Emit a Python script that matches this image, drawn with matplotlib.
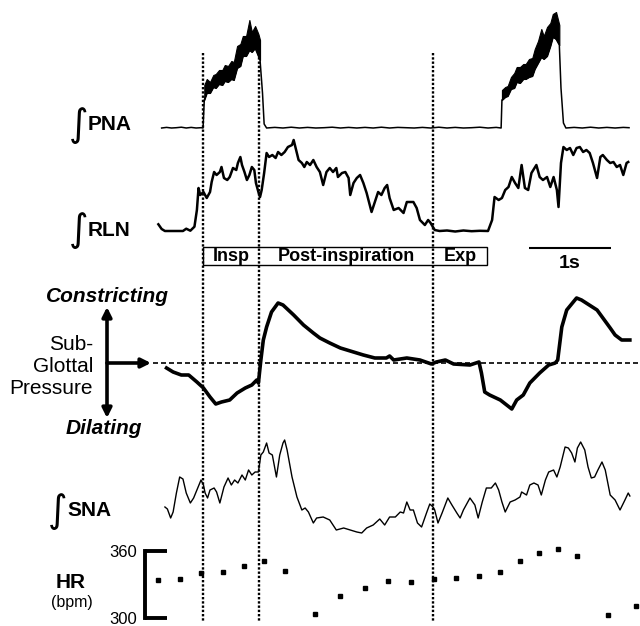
import numpy as np
import matplotlib
matplotlib.use("Agg")
import matplotlib.pyplot as plt
from matplotlib.patches import Rectangle

plt.rcParams['font.family'] = ['Liberation Sans', 'DejaVu Sans']

# time in seconds from start of the record
phase_times = [0.524, 1.207, 3.329]     # insp onset, post-insp onset, exp onset
phase_end = 3.988
phase_names = ["Insp", "Post-inspiration", "Exp"]

# integrated phrenic nerve activity (a.u.), baseline + two bursts
pna_base_t = [0.02, 0.08, 0.14, 0.20, 0.26, 0.32, 0.38, 0.44, 0.50, 0.525,
              1.25, 1.27, 1.30, 1.40, 1.50, 1.60, 1.70, 1.80, 1.90, 2.00, 2.10, 2.20,
              2.30, 2.40, 2.50, 2.60, 2.70, 2.80, 2.90, 3.00, 3.10, 3.20, 3.30, 3.40,
              3.50, 3.60, 3.70, 3.80, 3.90, 4.00, 4.10, 4.16,
              4.89, 4.92, 4.95, 5.05, 5.15, 5.25, 5.35, 5.45, 5.55, 5.65, 5.72]
pna_base_a = [0, 0.6, 0, 0.3, 0.8, 0, 0.6, 0, 0.3, 0,
              35, 4, 0, 0.6, 0, 0.8, 0, 0.6, 0, 0.3, 0.8, 0,
              0.6, 0, 0.6, 0, 0.8, 0, 0.6, 0.3, 0, 0.6, 0, 0.8,
              0, 0.6, 0, 0.3, 0.8, 0, 0.6, 0,
              40, 5, 0, 0.6, 0, 0.8, 0, 0.6, 0, 0.6, 0.3]
burst1_t = [0.54, 0.57, 0.61, 0.65, 0.68, 0.72, 0.76, 0.79, 0.83, 0.87,
            0.90, 0.94, 0.98, 1.01, 1.05, 1.09, 1.12, 1.16, 1.20, 1.22]
burst1_top = [43, 49, 46, 53, 54, 58, 58, 63, 62, 67, 66, 82, 84, 92, 92, 108, 96, 102, 94, 88]
burst1_bot = [28, 35, 35, 41, 40, 44, 43, 47, 46, 49, 48, 60, 62, 72, 72, 78, 76, 80, 72, 68]
burst2_t = [4.17, 4.21, 4.24, 4.28, 4.32, 4.35, 4.39, 4.43, 4.46, 4.50,
            4.54, 4.57, 4.61, 4.65, 4.68, 4.72, 4.76, 4.79, 4.83, 4.87]
burst2_top = [38, 41, 42, 51, 55, 61, 61, 64, 64, 69, 70, 79, 87, 99, 92, 101, 105, 114, 116, 103]
burst2_bot = [28, 31, 32, 39, 40, 46, 45, 49, 49, 51, 52, 59, 65, 71, 69, 72, 82, 91, 89, 83]

# integrated recurrent laryngeal nerve activity (a.u.)
rln_t = [-0.02, 0.02, 0.06, 0.28, 0.32, 0.37, 0.42, 0.45, 0.47, 0.49,
         0.53, 0.57, 0.61, 0.63, 0.66, 0.69, 0.73, 0.75, 0.78, 0.82,
         0.85, 0.89, 0.93, 0.95, 0.98, 1.00, 1.03, 1.06, 1.09, 1.12,
         1.15, 1.17, 1.20, 1.22, 1.24, 1.27, 1.30, 1.33, 1.37, 1.41,
         1.44, 1.48, 1.52, 1.56, 1.61, 1.63, 1.66, 1.69, 1.73, 1.76,
         1.79, 1.83, 1.87, 1.91, 1.95, 1.99, 2.03, 2.07, 2.11, 2.15,
         2.17, 2.22, 2.26, 2.30, 2.32, 2.36, 2.40, 2.44, 2.48, 2.52,
         2.58, 2.62, 2.66, 2.70, 2.74, 2.77, 2.80, 2.85, 2.91, 2.97,
         3.01, 3.05, 3.09, 3.13, 3.17, 3.23, 3.27, 3.30, 3.35, 3.41,
         3.50, 3.60, 3.70, 3.80, 3.90, 4.00, 4.05, 4.08, 4.13, 4.17,
         4.21, 4.25, 4.29, 4.33, 4.37, 4.41, 4.45, 4.49, 4.53, 4.59,
         4.63, 4.67, 4.72, 4.76, 4.80, 4.84, 4.86, 4.89, 4.92, 4.96,
         5.00, 5.04, 5.08, 5.12, 5.16, 5.20, 5.24, 5.28, 5.33, 5.37,
         5.40, 5.45, 5.49, 5.53, 5.57, 5.61, 5.65, 5.69, 5.71]
rln_a = [7.7, 3, 1, 1, 3.3, 1.3, 5.3, 22, 44, 37,
         40, 34, 40, 50, 60, 57, 60, 65, 54, 52,
         55, 64, 62, 69, 75, 67, 60, 52, 57, 65,
         62, 49, 40, 35, 42, 59, 79, 75, 77, 74,
         80, 77, 80, 85, 87, 92, 82, 72, 69, 65,
         70, 67, 72, 65, 60, 47, 60, 64, 60, 64,
         55, 59, 60, 54, 37, 49, 54, 57, 49, 39,
         20, 30, 40, 37, 44, 47, 34, 22, 24, 19,
         30, 30, 30, 24, 12, 7, 12, 9, 2, 1,
         1.5, 0.5, 1.5, 0.8, 1.2, 1, 12, 35, 32, 34,
         42, 45, 55, 49, 44, 67, 44, 42, 59, 67,
         55, 52, 55, 45, 55, 42, 25, 69, 85, 82,
         84, 77, 84, 85, 80, 82, 79, 69, 54, 75,
         77, 72, 69, 70, 65, 67, 57, 69, 70]

# sub-glottal pressure (a.u., + = constricting)
press_t = [0.08, 0.16, 0.26, 0.35, 0.45, 0.53, 0.61, 0.68, 0.75, 0.85,
           0.94, 1.04, 1.12, 1.18, 1.20, 1.23, 1.26, 1.30, 1.36, 1.44,
           1.50, 1.63, 1.75, 1.87, 1.95, 2.07, 2.20, 2.36, 2.48, 2.62,
           2.76, 2.80, 2.85, 3.01, 3.17, 3.31, 3.37, 3.48, 3.58, 3.78,
           3.89, 3.92, 3.96, 4.02, 4.15, 4.29, 4.35, 4.43, 4.51, 4.63,
           4.74, 4.82, 4.85, 4.90, 4.96, 5.08, 5.14, 5.33, 5.49, 5.55,
           5.63, 5.73]
press_p = [-5, -9, -12, -12, -19, -25, -34, -41, -39, -37,
           -30, -25, -22, -17, -20, 3, 23, 36, 51, 60,
           58, 48, 38, 30, 25, 20, 15, 11, 8, 5,
           5, 7, 3, 5, 3, -1, 1, 3, -1, -2,
           1, -10, -29, -32, -37, -46, -37, -32, -20, -10,
           -2, 0, 3, 36, 53, 65, 63, 53, 35, 28,
           23, 23]

# integrated sympathetic nerve activity (a.u.)
sna_t = [0.06, 0.09, 0.13, 0.16, 0.20, 0.24, 0.28, 0.32, 0.37, 0.41,
         0.45, 0.50, 0.53, 0.55, 0.58, 0.61, 0.66, 0.69, 0.73, 0.78,
         0.83, 0.87, 0.91, 0.95, 1.00, 1.04, 1.08, 1.12, 1.16, 1.20,
         1.23, 1.26, 1.30, 1.33, 1.37, 1.42, 1.46, 1.50, 1.52, 1.55,
         1.61, 1.67, 1.73, 1.77, 1.81, 1.87, 1.91, 1.99, 2.07, 2.15,
         2.24, 2.32, 2.40, 2.46, 2.52, 2.60, 2.68, 2.74, 2.80, 2.87,
         2.93, 2.97, 3.01, 3.05, 3.09, 3.14, 3.19, 3.25, 3.29, 3.33,
         3.35, 3.39, 3.44, 3.51, 3.56, 3.62, 3.66, 3.70, 3.78, 3.84,
         3.88, 3.93, 3.98, 4.04, 4.09, 4.13, 4.17, 4.21, 4.27, 4.33,
         4.39, 4.41, 4.47, 4.51, 4.56, 4.61, 4.65, 4.70, 4.74, 4.80,
         4.84, 4.88, 4.94, 4.98, 5.02, 5.06, 5.09, 5.13, 5.18, 5.22,
         5.26, 5.30, 5.34, 5.39, 5.43, 5.49, 5.55, 5.61, 5.67, 5.71,
         5.73]
sna_a = [33, 31, 22, 28, 47, 63, 61, 47, 37, 42,
         50, 60, 55, 47, 42, 50, 52, 48, 37, 53,
         62, 55, 60, 57, 65, 60, 70, 65, 68, 68,
         85, 88, 97, 87, 85, 63, 85, 97, 100, 90,
         63, 43, 30, 32, 28, 17, 22, 23, 20, 10,
         12, 10, 8, 7, 12, 15, 21, 15, 23, 23,
         28, 27, 38, 30, 30, 17, 13, 27, 36, 33,
         30, 17, 27, 42, 35, 27, 22, 30, 42, 35,
         22, 38, 52, 52, 57, 50, 38, 28, 38, 40,
         43, 48, 45, 55, 57, 55, 45, 60, 68, 70,
         63, 73, 93, 92, 87, 78, 92, 98, 90, 73,
         62, 63, 70, 78, 70, 45, 40, 30, 40, 47,
         44]

# beat-to-beat heart rate
hr_t = [-0.02, 0.24, 0.50, 0.77, 1.02, 1.27, 1.53, 1.89, 2.20, 2.50, 2.78,
        3.06, 3.34, 3.61, 3.89, 4.15, 4.39, 4.62, 4.85, 5.09, 5.46, 5.80]
hr_bpm = [334, 335, 340, 341, 347, 351, 342, 304, 320, 327, 333,
          332, 335, 336, 338, 341, 351, 358, 362, 356, 303, 311]

W, H = 640, 626
T0, T1 = -160 / 82, 480 / 82   # visible time range (s)

fig = plt.figure(figsize=(W / 100, H / 100), dpi=100)


def panel(y_top, y_bot, ylim):
    ax = fig.add_axes([0, 1 - y_bot / H, 1, (y_bot - y_top) / H])
    ax.set_xlim(T0, T1)
    ax.set_ylim(*ylim)
    ax.axis("off")
    ax.patch.set_visible(False)
    return ax


# PNA
ax = panel(3, 135, (-7, 125))
line_t = np.concatenate([pna_base_t, burst1_t, burst2_t])
line_a = np.concatenate([pna_base_a, burst1_bot, burst2_bot])
order = np.argsort(line_t)
ax.plot(line_t[order], line_a[order], color="k", lw=1.1)
ax.fill_between(burst1_t, burst1_bot, burst1_top, color="k", lw=0.8)
ax.fill_between(burst2_t, burst2_bot, burst2_top, color="k", lw=0.8)

# RLN
ax = panel(130, 240, (-8, 102))
ax.plot(rln_t, rln_a, color="k", lw=1.8)

# sub-glottal pressure
ax = panel(290, 420, (-57, 73))
ax.hlines(0, -0.085, T1, color="k", lw=1.2, linestyles=(0, (3, 1.8)))
ax.plot(press_t, press_p, color="k", lw=2.6, solid_joinstyle="round")

# SNA
ax = panel(430, 545, (-5, 110))
ax.plot(sna_t, sna_a, color="k", lw=1.0)

# HR with bracket scale
ax = fig.add_axes([0, 0, 1, 86 / H])
ax.patch.set_visible(False)
ax.set_xlim(T0, T1)
ax.set_ylim(292.8, 369.9)
ax.plot(hr_t, hr_bpm, "s", color="k", ms=3.2)
for s in ["top", "right", "bottom"]:
    ax.spines[s].set_visible(False)
ax.spines["left"].set_position(("data", -15 / 82))
ax.spines["left"].set_bounds(300, 360)
ax.spines["left"].set_linewidth(2.8)
ax.set_xticks([])
ax.set_yticks([300, 360])
ax.tick_params(axis="y", direction="in", length=16, width=2.8, pad=6, labelsize=12)

# overlay in time / pixel-row units: phase markers, phase box, scale bar
ov = fig.add_axes([0, 0, 1, 1])
ov.set_xlim(T0, T1)
ov.set_ylim(H, 0)
ov.axis("off")
ov.patch.set_visible(False)
ov.vlines(phase_times, 53, 622, color="k", lw=1.7, linestyles=(0, (1, 0.8)))
ov.add_patch(Rectangle((phase_times[0], 247), phase_end - phase_times[0], 18,
                       fill=False, lw=1.0, ec="k"))
bounds = phase_times + [phase_end]
for i, name in enumerate(phase_names):
    ov.text((bounds[i] + bounds[i + 1]) / 2, 256.5, name, ha="center", va="center",
            fontsize=13, fontweight="bold")
ov.hlines(248, 4.5, 5.5, color="k", lw=1.5)
ov.text(5.0, 264, "1s", ha="center", va="center", fontsize=14, fontweight="bold")

# labels in pixel units
lab = fig.add_axes([0, 0, 1, 1])
lab.set_xlim(0, W)
lab.set_ylim(H, 0)
lab.axis("off")
lab.patch.set_visible(False)

for xi, yi, name in [(80, 125, "PNA"), (80, 230, "RLN"), (59, 511, "SNA")]:
    lab.text(xi - 1, yi + 1, "\u222b", ha="center", va="center", fontsize=27,
             family=["DejaVu Sans"])
    lab.text(xi + 8, yi, name, ha="left", va="center", fontsize=15, fontweight="bold")

lab.text(71, 583, "HR", ha="center", va="center", fontsize=15, fontweight="bold")
lab.text(72, 603, "(bpm)", ha="center", va="center", fontsize=11.5)

lab.text(107, 296, "Constricting", ha="center", va="center", fontsize=15,
         fontweight="bold", style="italic")
lab.text(104, 428, "Dilating", ha="center", va="center", fontsize=15,
         fontweight="bold", style="italic")
for yi, word in [(345, "Sub-"), (367, "Glottal"), (388, "Pressure")]:
    lab.text(93, yi, word, ha="right", va="center", fontsize=15)

lab.annotate("", xy=(107, 307), xytext=(107, 418),
             arrowprops=dict(arrowstyle="<|-|>", lw=2.6, color="k",
                             mutation_scale=14, shrinkA=0, shrinkB=0))
lab.annotate("", xy=(151, 363), xytext=(107, 363),
             arrowprops=dict(arrowstyle="-|>", lw=2.6, color="k",
                             mutation_scale=14, shrinkA=0, shrinkB=0))

fig.savefig("out.png", dpi=100, facecolor="white")
